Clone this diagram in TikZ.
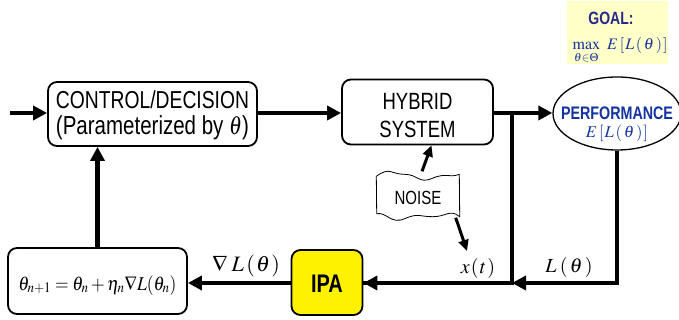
\documentclass[tikz,border=0pt]{standalone}
\usepackage{graphicx}
\usepackage{mathptmx}
\usepackage[no-math]{fontspec}
\setmainfont{Liberation Sans}
\usetikzlibrary{arrows.meta,calc,shapes.geometric}
\definecolor{perfblue}{RGB}{20,50,160}
\definecolor{goalblue}{RGB}{40,40,140}
\definecolor{goalbg}{RGB}{255,255,200}
\newcommand\vst[1]{\scalebox{1}[1.27]{#1}}
\newcommand\spELt{E\mkern2mu[\mkern1mu L\mkern2mu(\mkern2mu\theta\mkern2mu)\mkern1mu]}
\begin{document}
\begin{tikzpicture}[x=1pt,y=-1pt,
  blk/.style={draw, line width=1.8pt, rounded corners=9pt, inner sep=0pt},
  txt/.style={anchor=base, inner sep=0pt},
  thk/.style={line width=4.5pt, -{Triangle[length=14pt,width=14pt]}},
  thn/.style={line width=4.5pt},
  med/.style={line width=3pt, -{Triangle[length=11pt,width=10pt]}},
]
\useasboundingbox (0,0) rectangle (679,320);
% goal
\node[fill=goalbg, minimum width=101, minimum height=63, inner sep=0pt] (goal) at (617.5,33) {};
\node[txt, text=goalblue, font=\bfseries\fontsize{14}{16}\selectfont] (goalt) at (611,25) {\vst{GOAL:}};
\node[txt, text=perfblue, font=\fontsize{16}{18}\selectfont] (goalm) at (620,50) {$\max\limits_{\theta\in\Theta}\mkern6mu\spELt$};
% blocks
\node[blk, minimum width=209, minimum height=64] (ctrl) at (152.5,114) {};
\node[txt, font=\fontsize{19.3}{22}\selectfont] (ctrl1) at (152.5,109) {\vst{CONTROL/DECISION}};
\node[txt, font=\fontsize{20.5}{22}\selectfont] (ctrl2) at (152.5,135) {\vst{(Parameterized by $\theta$)}};
\node[blk, minimum width=151, minimum height=65] (hyb) at (417.5,112) {};
\node[txt, font=\fontsize{18.5}{22}\selectfont] (hyb1) at (417.5,109.5) {\vst{HYBRID}};
\node[txt, font=\fontsize{18.5}{22}\selectfont] (hyb2) at (417.5,137.5) {\vst{SYSTEM}};
\node[draw, line width=1.3pt, ellipse, minimum width=128, minimum height=73, inner sep=0pt] (perf) at (617,113.5) {};
\node[txt, text=perfblue, font=\bfseries\fontsize{14.3}{16}\selectfont] (perf1) at (617,120) {\vst{PERFORMANCE}};
\node[txt, text=perfblue, font=\fontsize{16.5}{18}\selectfont] (perf2) at (617,138) {$\spELt$};
\node[blk, fill=yellow, minimum width=71, minimum height=65] (ipa) at (327,282.5) {};
\node[txt, font=\bfseries\fontsize{20}{22}\selectfont] (ipat) at (327,292) {\vst{IPA}};
\node[blk, minimum width=179, minimum height=66] (upd) at (97.5,281) {};
\node[txt, font=\fontsize{17.5}{20}\selectfont] (updt) at (97.5,290) {\scalebox{1}[1.12]{$\theta_{n+1}=\theta_n+\eta_n\nabla L(\theta_n)$}};
% noise
\node[minimum width=83, minimum height=45, inner sep=0pt] (noise) at (418,197) {};
\node[txt, font=\fontsize{15}{16}\selectfont] (noiset) at (418,205) {\vst{NOISE}};
\draw[line width=0.8pt] (noise.north west) ++(0,2)
  .. controls +(14,-10) and +(-14,0) .. ++(28,-2)
  .. controls +(14,0) and +(-14,6) .. ++(28,4)
  .. controls +(14,-6) and +(-10,4) .. ++(27,-4)
  -- ($(noise.south east)+(0,-3)$)
  .. controls +(-10,-8) and +(14,0) .. ++(-27,0)
  .. controls +(-14,0) and +(14,-6) .. ++(-28,2)
  .. controls +(-14,6) and +(10,-2) .. ++(-28,-5)
  -- cycle;
% connectors
\coordinate (in) at (10,113);
\coordinate (br) at (512,113);
\coordinate (jn) at (512,283);
\coordinate (xt) at (467,251);
\draw[thk] (in) -- (in -| ctrl.west);
\draw[thk] (ctrl.east |- in) -- (in -| hyb.west);
\draw[thk] (hyb.east |- in) -- (in -| perf.west);
\draw[thn] (br) -- (jn) -- (jn -| ipa.east);
\draw[thk] (jn) -- (jn -| ipa.east);
\draw[thk] (perf.south) |- (jn);
\draw[thk] (ipa.west |- jn) -- (jn -| upd.east);
\draw[thk] (upd.north) -- (upd.north |- ctrl.south);
\draw[med] ($(noise.north)+(4,-3)$) -- ($(hyb.south)+(14,0)$);
\draw[med] ($(noise.south east)+(-4,-2)$) -- (xt);
% labels
\node[txt, font=\fontsize{20}{22}\selectfont] (lx) at (478,273) {$x\mkern1mu(\mkern1mu t\mkern1mu)$};
\node[txt, font=\fontsize{20}{22}\selectfont] (lL) at (569,272) {$L\mkern3mu(\mkern2mu\theta\mkern2mu)$};
\node[txt, font=\fontsize{22}{24}\selectfont] (lg) at (246,271) {$\nabla\mkern3mu L\mkern2mu(\mkern1mu\theta\mkern1mu)$};
\end{tikzpicture}
\end{document}
